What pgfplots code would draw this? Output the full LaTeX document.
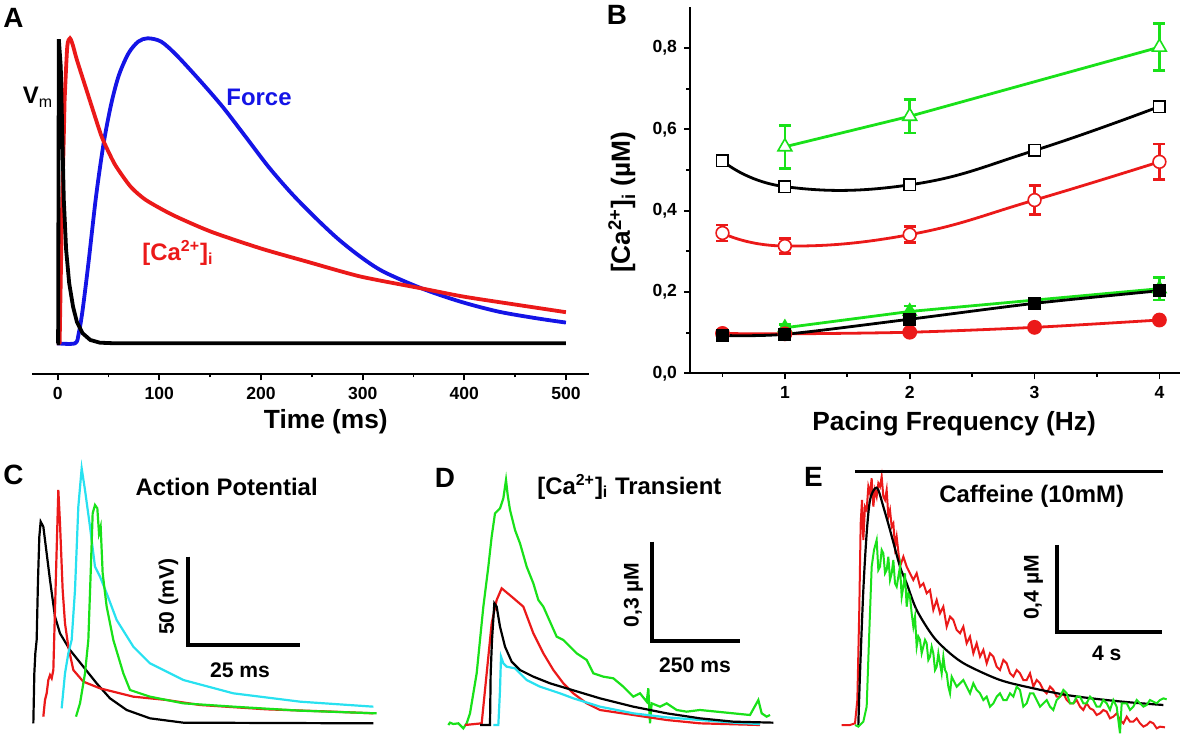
\documentclass[border=0pt]{standalone}
\usepackage{pgfplots}
\pgfplotsset{compat=1.18}
\usepackage{fontspec}
\setmainfont{Liberation Sans}
\definecolor{cred}{RGB}{235,25,25}
\definecolor{cgreen}{RGB}{25,225,25}
\definecolor{cblue}{RGB}{20,20,230}
\definecolor{ccyan}{RGB}{40,225,240}
\newcommand{\fs}[1]{\fontsize{#1}{#1}\selectfont}
\pgfplotstableread{
x y e
0.5 0.345 0.020
1 0.313 0.019
2 0.341 0.020
3 0.426 0.036
4 0.520 0.044
}\redopen
\pgfplotstableread{
x y e
1 0.557 0.053
2 0.632 0.041
4 0.802 0.058
}\greenopen
\pgfplotstableread{
x y e
1 0.112 0.008
2 0.152 0.013
4 0.208 0.028
}\greenfilled
\pgfplotstableread{
x y
0.5 0.5226
1 0.459
2 0.4635
3 0.548
4 0.656
}\blackopen
\pgfplotstableread{
x y
0.5 0.093
1 0.096
2 0.133
3 0.172
4 0.203
}\blackfilled
\pgfplotstableread{
x y
0.5 0.098
1 0.097
2 0.101
3 0.113
4 0.131
}\redfilled
\pgfplotsset{
  errbars/.style={draw=none, mark=none, forget plot,
    error bars/.cd, y dir=both, y explicit,
    error bar style={draw=#1, solid, line width=1.3bp},
    error mark options={draw=#1, rotate=90, mark size=3bp, line width=1.3bp}}
}
\begin{document}
\begin{tikzpicture}
\path[use as bounding box] (0,0) rectangle (600bp,368bp);
% ---------------- Panel A
\begin{axis}[at={(16.15bp,180.85bp)}, anchor=south west, scale only axis,
  width=278.5bp, height=168bp,
  xmin=-25, xmax=523, ymin=-0.1016, ymax=1,
  axis x line*=bottom, axis y line=none, ytick=\empty,
  xtick={0,100,...,500}, minor xtick={50,150,250,350,450},
  tick align=outside, major tick length=3bp, minor tick length=1.6bp,
  tick style={black, line width=0.9bp},
  axis line style={line width=1bp},
  /pgf/number format/assume math mode=true,
  tick label style={font=\bfseries\fs{8.8}},
  xlabel={Time (ms)},
  xlabel style={font=\bfseries\fs{13.2}, at={(axis description cs:0.527,-0.141)}, anchor=center},
  clip=false]
\addplot[cblue, line width=1.9bp, smooth, tension=0.5] coordinates {
(-0.8,0)(17,0)(20.7,0.033)(24.5,0.109)(30.2,0.262)(37.7,0.481)(45.2,0.656)(52.8,0.787)
(60.3,0.880)(69.7,0.951)(79.2,0.989)(88.6,1.0)(101.8,0.989)(116.8,0.945)(139.5,0.863)
(162.1,0.776)(184.7,0.678)(207.3,0.579)(229.9,0.492)(252.5,0.415)(275.2,0.344)
(297.8,0.284)(320.4,0.235)(358.1,0.180)(395.8,0.137)(433.5,0.104)(471.2,0.082)(500,0.068)};
\addplot[cred, line width=1.9bp, line join=round] coordinates {
(-0.8,0)(1.9,0)(3.8,0.361)(6.8,0.798)};
\addplot[cred, line width=1.9bp, smooth, tension=0.4] coordinates {
(6.8,0.798)(9.4,0.973)(12.1,1.0)(15.1,0.975)(18.8,0.930)(30.1,0.812)
(41.4,0.695)(46,0.656)(56.5,0.585)(71.6,0.514)(86.7,0.470)(113,0.421)(150.8,0.366)
(199.8,0.311)(245,0.268)(297.8,0.219)(358,0.180)(399.5,0.153)(452.3,0.126)(500,0.102)};
\addplot[black, line width=1.9bp] coordinates {
(-0.8,0)(0.4,0)(1.1,0.997)(3.0,0.907)(4.5,0.689)(6.0,0.470)(8.3,0.306)(11.3,0.197)(15.1,0.120)
(18.8,0.071)(24.5,0.033)(32.0,0.011)(41.5,0.002)(56.5,0)(500,0)};
\end{axis}
% ---------------- Panel B
\begin{axis}[at={(345bp,181.35bp)}, anchor=south west, scale only axis,
  width=245bp, height=183bp,
  xmin=0.24, xmax=4.165, ymin=0, ymax=0.9,
  axis x line*=bottom, axis y line*=left,
  xtick={1,2,3,4}, minor xtick={0.5,1.5,2.5,3.5},
  ytick={0,0.2,0.4,0.6,0.8}, minor ytick={0.1,0.3,0.5,0.7},
  tick align=outside, major tick length=3bp, minor tick length=1.8bp,
  tick style={black, line width=0.9bp},
  axis line style={line width=1bp},
  /pgf/number format/assume math mode=true,
  tick label style={font=\bfseries\fs{8.8}},
  yticklabel style={/pgf/number format/.cd, fixed, fixed zerofill, precision=1, use comma},
  xlabel={Pacing Frequency (Hz)},
  xlabel style={font=\bfseries\fs{13.2}, at={(axis description cs:0.539,-0.137)}, anchor=center},
  ylabel={[Ca\textsuperscript{2+}]\textsubscript{i} (µM)},
  ylabel style={font=\bfseries\fs{13.2}, at={(axis description cs:-0.139,0.467)}, anchor=center, rotate=0},
  clip=false]
% filled series
\addplot[errbars=cgreen] table[x=x, y=y, y error=e] {\greenfilled};
\addplot[cgreen, line width=1.4bp, mark=triangle*, mark size=3.2bp] table[x=x,y=y] {\greenfilled};
\addplot[cred, line width=1.4bp, smooth, mark=*, mark size=3bp] table {\redfilled};
\addplot[black, line width=1.4bp, smooth, mark=square*, mark size=2.6bp] table {\blackfilled};
% open series
\addplot[black, line width=1.4bp, smooth, tension=0.75, mark=square*, mark size=2.9bp,
  mark options={fill=white, draw=black, line width=0.8bp}] table {\blackopen};
\addplot[errbars=cred] table[x=x, y=y, y error=e] {\redopen};
\addplot[cred, line width=1.4bp, smooth, tension=0.75, mark=*, mark size=3.2bp,
  mark options={fill=white, draw=cred, line width=0.8bp}] table[x=x,y=y] {\redopen};
\addplot[errbars=cgreen] table[x=x, y=y, y error=e] {\greenopen};
\addplot[cgreen, line width=1.4bp, mark=triangle*, mark size=4bp,
  mark options={fill=white, draw=cgreen, line width=0.8bp}] table[x=x,y=y] {\greenopen};
\end{axis}
% panel letters and labels for A, B
\node[font=\bfseries\fs{14}] at (6.7bp,359bp) {A};
\node[font=\bfseries\fs{14}] at (308.5bp,360.5bp) {B};
\node[font=\bfseries\fs{12}] at (19bp,319.5bp) {V\textsubscript{\mdseries m}};
\node[font=\bfseries\fs{12}, text=cblue] at (129.5bp,319.5bp) {Force};
\node[font=\bfseries\fs{12}, text=cred] at (89bp,241.5bp) {[Ca\textsuperscript{2+}]\textsubscript{i}};
% ---------------- Panel C
\begin{axis}[at={(0bp,0bp)}, anchor=south west, scale only axis, width=200bp, height=148bp,
  xmin=0, xmax=1200, ymin=0, ymax=888, y dir=reverse, hide axis, clip=false]
\addplot[black, line width=1.1bp] coordinates {
(100,850)(103,700)(106,640)(110,600)(114,420)(118,290)(122,245)(130,260)(140,340)(150,420)
(165,530)(180,580)(210,630)(250,680)(290,730)(330,775)(380,810)(450,835)(550,848)(1120,850)};
\addplot[cred, line width=1.1bp] coordinates {
(130,830)(135,780)(140,760)(145,720)(150,705)(155,715)(160,690)(168,400)(175,150)(180,250)
(188,450)(195,550)(205,620)(220,690)(250,725)(300,745)(400,770)(500,780)(600,795)(800,808)
(1000,815)(1120,820)};
\addplot[ccyan, line width=1.1bp] coordinates {
(185,805)(195,700)(205,640)(215,600)(225,450)(235,200)(245,85)(255,150)(270,260)(285,380)
(300,410)(320,460)(350,540)(400,620)(450,670)(550,720)(700,760)(900,785)(1120,800)};
\addplot[cgreen, line width=1.1bp] coordinates {
(228,830)(240,790)(255,700)(265,600)(272,400)(278,220)(285,195)(292,205)(297,280)(302,260)
(308,400)(320,500)(340,600)(370,700)(390,750)(450,770)(550,790)(700,800)(900,812)(1130,820)};
\addplot[black, line width=2bp] coordinates {(565,350)(565,615)(900,615)};
\node[font=\bfseries\fs{14}] at (axis cs:40,105) {C};
\node[font=\bfseries\fs{12}] at (axis cs:680,140) {Action Potential};
\node[font=\bfseries\fs{10.6}, rotate=90] at (axis cs:505,470) {50 (mV)};
\node[font=\bfseries\fs{10.6}] at (axis cs:720,690) {25 ms};
\end{axis}
% ---------------- Panel D
\begin{axis}[at={(200bp,0bp)}, anchor=south west, scale only axis, width=200bp, height=148bp,
  xmin=0, xmax=1200, ymin=0, ymax=888, y dir=reverse, hide axis, clip=false]
\addplot[cgreen, line width=1.1bp] coordinates {
(145,855)(150,848)(160,852)(175,850)(190,865)(200,850)(210,820)(230,700)(250,500)(265,380)
(275,290)(285,220)(300,205)(310,175)(318,120)(323,165)(330,210)(345,270)(360,310)(380,380)
(400,430)(415,480)(430,500)(450,545)(470,590)(490,600)(510,620)(530,640)(560,660)(580,700)
(610,710)(640,715)(670,740)(700,770)(720,760)(740,785)(745,745)(750,850)(755,790)(780,800)
(800,790)(830,810)(860,815)(900,810)(950,815)(1000,820)(1050,825)(1075,780)(1085,820)
(1100,830)(1110,825)};
\addplot[cred, line width=1.1bp] coordinates {
(195,855)(245,850)(260,700)(275,550)(290,480)(305,445)(335,470)(370,500)(400,580)(430,640)
(460,690)(490,730)(520,760)(560,790)(600,810)(700,825)(800,840)(900,850)(1080,855)};
\addplot[ccyan, line width=1.1bp] coordinates {
(280,855)(295,855)(300,750)(303,650)(310,670)(320,680)(345,685)(360,700)(380,720)(420,740)
(480,760)(520,775)(600,800)(700,820)(800,832)(900,840)(1000,848)(1080,852)};
\addplot[black, line width=1.1bp] coordinates {
(240,855)(270,855)(272,700)(276,600)(283,490)(290,500)(300,560)(315,620)(335,665)(360,690)
(400,710)(450,730)(500,745)(600,775)(700,800)(800,820)(900,835)(1000,845)(1120,848)};
\addplot[black, line width=2bp] coordinates {(755,305)(755,603)(1020,603)};
\node[font=\bfseries\fs{14}] at (axis cs:135,115) {D};
\node[font=\bfseries\fs{12}] at (axis cs:688,140) {[Ca\textsuperscript{2+}]\textsubscript{i} Transient};
\node[font=\bfseries\fs{10.6}, rotate=90] at (axis cs:700,465) {0,3 µM};
\node[font=\bfseries\fs{10.6}] at (axis cs:885,675) {250 ms};
\end{axis}
% ---------------- Panel E
\begin{axis}[at={(400bp,0bp)}, anchor=south west, scale only axis, width=200bp, height=148bp,
  xmin=0, xmax=1200, ymin=0, ymax=888, y dir=reverse, hide axis, clip=false]
\addplot[cred, line width=1bp] coordinates {
(125,855)(150,855)(165,850)(172,780)(178,500)(182,250)(186,180)(190,300)(195,200)(200,210)
(205,140)(210,160)(215,115)(220,200)(225,150)(230,170)(235,130)(240,140)(245,110)(250,170)
(255,180)(260,150)(265,230)(270,210)(275,260)(280,250)(285,320)(290,290)(300,380)(310,350)
(320,380)(330,400)(340,420)(350,400)(360,440)(370,430)(380,460)(390,450)(400,510)(410,480)
(420,520)(430,500)(440,560)(450,530)(460,540)(470,570)(480,580)(490,560)(500,610)(510,590)
(520,640)(530,610)(540,650)(550,630)(560,670)(570,640)(580,650)(590,680)(600,690)(610,660)
(620,670)(630,700)(640,710)(650,690)(660,700)(670,720)(680,720)(690,700)(700,740)(710,720)
(720,730)(730,750)(740,760)(750,740)(760,750)(770,770)(780,770)(790,760)(800,780)(810,790)
(820,790)(830,780)(840,800)(850,810)(860,790)(870,805)(880,810)(890,825)(900,820)(910,810)
(920,815)(930,835)(940,830)(950,820)(960,840)(970,850)(980,830)(990,845)(1000,845)(1010,835)
(1020,850)(1030,860)(1040,855)(1050,845)(1060,850)(1070,865)(1080,860)(1095,862)};
\addplot[black, line width=1.1bp, smooth] coordinates {
(175,855)(180,700)(190,450)(200,280)(210,180)(225,145)(235,150)(250,200)(270,270)(300,380)
(320,430)(350,510)(400,590)(450,640)(500,675)(600,720)(700,745)(800,765)(900,778)(1000,788)
(1090,795)};
\addplot[cgreen, line width=1bp] coordinates {
(165,855)(175,860)(190,845)(200,800)(207,600)(215,380)(222,330)(230,300)(235,390)(240,380)
(245,330)(250,340)(255,400)(260,390)(265,350)(270,420)(275,400)(280,360)(285,430)(290,440)
(295,410)(300,380)(305,470)(310,440)(315,400)(320,500)(325,460)(330,470)(335,520)(340,560)
(345,530)(350,620)(355,590)(360,600)(365,640)(370,620)(375,600)(380,610)(385,660)(390,650)
(395,620)(400,640)(405,690)(410,680)(415,640)(420,670)(425,700)(430,650)(435,690)(440,700)
(445,740)(450,760)(455,710)(460,720)(470,740)(480,730)(490,720)(500,740)(510,760)(520,730)
(530,750)(540,760)(550,780)(560,770)(570,800)(580,790)(590,770)(600,760)(610,780)(620,780)
(630,760)(640,770)(650,740)(660,750)(670,800)(680,790)(690,760)(700,760)(710,780)(720,800)
(730,790)(740,780)(750,800)(760,810)(770,780)(780,770)(790,750)(800,760)(810,790)(820,790)
(830,770)(840,770)(850,790)(860,790)(870,770)(880,780)(890,800)(900,800)(910,780)(920,790)
(930,810)(940,780)(950,800)(960,880)(965,790)(980,790)(990,810)(1000,800)(1010,780)(1020,790)
(1030,800)(1040,795)(1050,780)(1060,785)(1070,790)(1080,780)(1090,775)(1100,778)};
\addplot[black, line width=1.7bp] coordinates {(165,95)(1090,95)};
\addplot[black, line width=2bp] coordinates {(770,315)(770,575)(1085,575)};
\node[font=\bfseries\fs{14}] at (axis cs:40,110) {E};
\node[font=\bfseries\fs{12}] at (axis cs:695,170) {Caffeine (10mM)};
\node[font=\bfseries\fs{10.6}, rotate=90] at (axis cs:700,442) {0,4 µM};
\node[font=\bfseries\fs{10.6}] at (axis cs:920,640) {4 s};
\end{axis}
\end{tikzpicture}
\end{document}
